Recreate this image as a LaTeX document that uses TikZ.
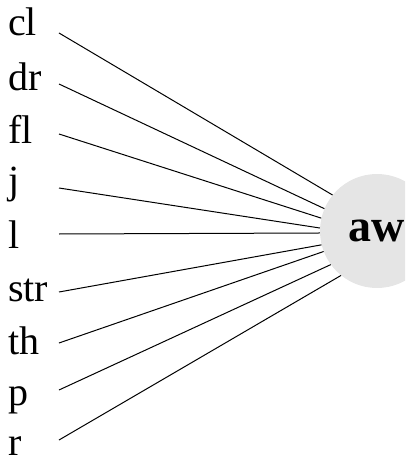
\documentclass[tikz,border=0pt]{standalone}
\usepackage{fontspec}
\setmainfont{Liberation Serif}
\begin{document}
\begin{tikzpicture}[x=1pt,y=-1pt,
  lab/.style={anchor=base west, inner sep=0pt, font=\fontsize{40}{40}\selectfont},
  conn/.style={line width=1pt, black}]
\clip (0,0) rectangle (405,465);
\node[circle, fill=gray!20, minimum size=114pt, inner sep=0pt,
      font=\fontsize{46}{46}\selectfont\bfseries] (aw) at (377,231) {aw};
\node[lab] (cl)  at (8,36)  {cl};
\node[lab] (dr)  at (8,91)  {dr};
\node[lab] (fl)  at (8,143) {fl};
\node[lab] (j)   at (8,193) {j};
\node[lab] (l)   at (8,248) {l};
\node[lab] (str) at (8,301) {str};
\node[lab] (th)  at (8,354) {th};
\node[lab] (p)   at (8,405) {p};
\node[lab] (r)   at (8,455) {r};
\coordinate (s1) at (59,33);
\coordinate (s2) at (59,84);
\coordinate (s3) at (59,134);
\coordinate (s4) at (59,188);
\coordinate (s5) at (59,234);
\coordinate (s6) at (59,292);
\coordinate (s7) at (59,343);
\coordinate (s8) at (59,390);
\coordinate (s9) at (59,440);
\draw[conn] (s1) -- (aw.141);
\draw[conn] (s2) -- (aw.157);
\draw[conn] (s3) -- (aw.167);
\draw[conn] (s4) -- (aw.177);
\draw[conn] (s5) -- (aw.182);
\draw[conn] (s6) -- (aw.194);
\draw[conn] (s7) -- (aw.201);
\draw[conn] (s8) -- (aw.216);
\draw[conn] (s9) -- (aw.231);
\end{tikzpicture}
\end{document}
